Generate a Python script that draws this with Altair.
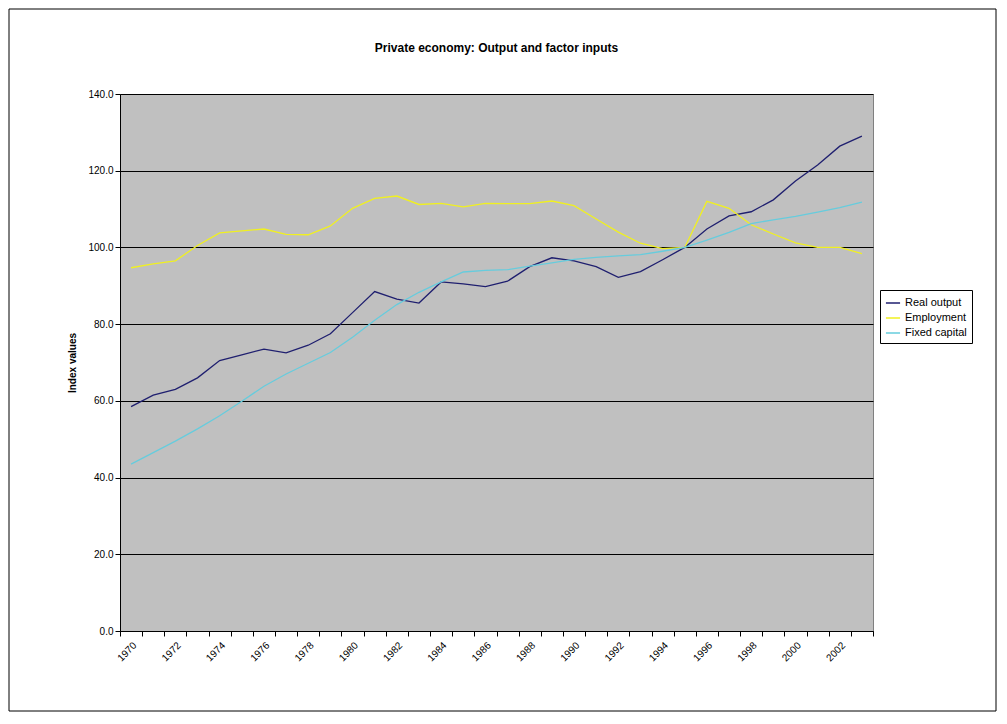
import altair as alt
import pandas as pd

years = list(range(1970, 2004))
real_output = [58.5, 61.5, 63.0, 66.0, 70.5, 72.0, 73.5, 72.5, 74.5, 77.5, 83.0, 88.5, 86.5, 85.5,
               91.0, 90.5, 89.8, 91.2, 95.0, 97.3, 96.5, 95.0, 92.2, 93.7, 96.8, 100.0, 104.8,
               108.2, 109.3, 112.4, 117.3, 121.5, 126.4, 129.0]
employment = [94.7, 95.7, 96.5, 100.5, 103.8, 104.3, 104.8, 103.4, 103.3, 105.6, 110.2, 112.8,
              113.4, 111.2, 111.5, 110.6, 111.5, 111.4, 111.4, 112.1, 110.9, 107.4, 104.0, 101.1,
              99.7, 100.0, 112.0, 110.2, 105.9, 103.5, 101.2, 100.0, 100.0, 98.4]
fixed_capital = [43.5, 46.5, 49.5, 52.7, 56.1, 59.9, 63.8, 67.0, 69.8, 72.6, 76.6, 81.0, 85.1,
                 88.3, 91.0, 93.6, 94.0, 94.2, 95.1, 96.0, 96.9, 97.4, 97.8, 98.1, 99.0, 100.0,
                 101.9, 103.9, 106.2, 107.2, 108.1, 109.2, 110.4, 111.8]
series = ["Real output", "Employment", "Fixed capital"]
colors = ["#1F1F6F", "#F0F020", "#66CCDD"]
title_text = "Private economy: Output and factor inputs"

rows = []
for name, vals in zip(series, [real_output, employment, fixed_capital]):
    for y, v in zip(years, vals):
        rows.append({"year": str(y), "value": v, "series": name})
df = pd.DataFrame(rows)

W, H = 753, 537

one = pd.DataFrame({"a": [0]})

# outer chart border
frame = alt.Chart(one).mark_rect(
    fill="transparent", stroke="black", strokeWidth=1, clip=False
).encode(x=alt.value(-111), x2=alt.value(W + 123), y=alt.value(-85), y2=alt.value(H + 80))

title = alt.Chart(one).mark_text(
    text=title_text, font="Arial", fontSize=12, fontWeight="bold", color="black"
).encode(x=alt.value(W / 2), y=alt.value(-46))

lines = alt.Chart(df).mark_line(strokeWidth=1.3).encode(
    x=alt.X("year:O", title=None,
            scale=alt.Scale(type="band", paddingInner=0, paddingOuter=0),
            axis=alt.Axis(labelAngle=-45, labelAlign="right", labelBaseline="top",
                          labelExpr="toNumber(datum.value) % 2 == 0 ? datum.value : ''",
                          tickBand="extent", tickColor="black", domainColor="black",
                          labelFont="Arial", labelFontSize=10, labelColor="black",
                          labelPadding=4, tickSize=5)),
    y=alt.Y("value:Q", title="Index values",
            scale=alt.Scale(domain=[0, 140], nice=False),
            axis=alt.Axis(values=list(range(0, 141, 20)), format=".1f", gridColor="black",
                          gridWidth=1, tickColor="black", domainColor="black",
                          labelFont="Arial", labelFontSize=10, labelColor="black",
                          titleFont="Arial", titleFontSize=10, titleFontWeight="bold",
                          titlePadding=10, titleColor="black")),
    color=alt.Color("series:N", sort=series,
                    scale=alt.Scale(domain=series, range=colors),
                    legend=alt.Legend(title=None, orient="none", legendX=760, legendY=196,
                                      symbolType="stroke", symbolSize=200, symbolStrokeWidth=1.5,
                                      labelFont="Arial", labelFontSize=11, labelColor="black",
                                      fillColor="white", strokeColor="black", padding=5,
                                      rowPadding=2)),
)

chart = (frame + title + lines).properties(
    width=W, height=H,
    autosize=alt.AutoSizeParams(type="none"),
    padding={"left": 112, "top": 86, "right": 124, "bottom": 82},
).configure(background="white").configure_view(fill="#C0C0C0", stroke="#808080")

chart.save("out.html", embed_options={"renderer": "svg", "actions": False})
